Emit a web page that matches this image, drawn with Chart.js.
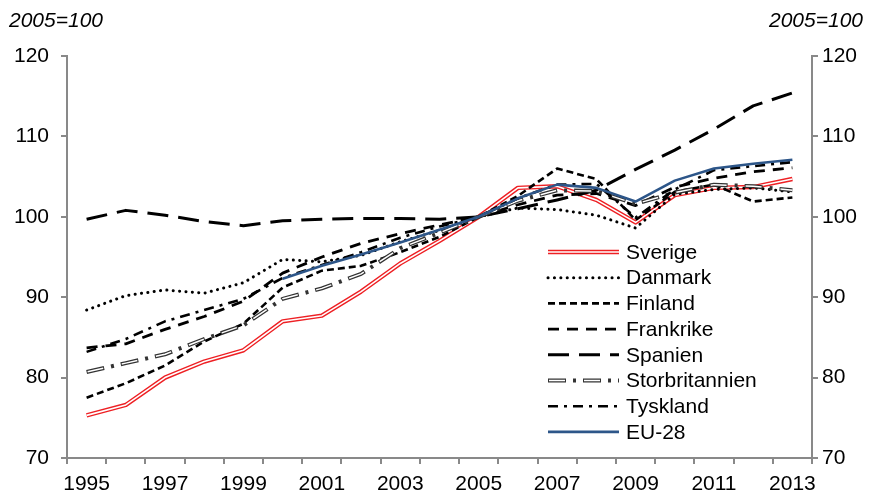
<!DOCTYPE html>
<html>
<head>
<meta charset="utf-8">
<script src="https://cdn.jsdelivr.net/npm/chart.js@4.4.1/dist/chart.umd.min.js"></script>
<style>
  html, body { margin: 0; padding: 0; background: #fff; }
  canvas { display: block; }
</style>
</head>
<body>
<canvas id="productivity-chart" width="870" height="492"></canvas>
<script>
const years = ["1995","1996","1997","1998","1999","2000","2001","2002","2003","2004",
               "2005","2006","2007","2008","2009","2010","2011","2012","2013"];
const yTicks = [70, 80, 90, 100, 110, 120];
const unitLabel = "2005=100";

const sverige        = [75.3, 76.6, 80.0, 82.0, 83.4, 87.0, 87.7, 90.7, 94.2, 97.0, 100, 103.6, 103.8, 102.1, 99.3, 102.7, 103.6, 103.7, 104.7];
const danmark        = [88.4, 90.2, 90.9, 90.5, 91.8, 94.7, 94.4, 95.2, 96.9, 98.3, 100, 101.1, 100.9, 100.2, 98.6, 102.8, 103.4, 103.6, 103.1];
const finland        = [77.5, 79.3, 81.5, 84.5, 86.7, 91.2, 93.3, 93.9, 95.6, 97.5, 100, 102.6, 106.0, 104.7, 99.6, 103.1, 104.0, 101.9, 102.4];
const frankrike      = [83.7, 84.2, 86.0, 87.6, 89.5, 93.0, 95.0, 96.7, 97.9, 99.0, 100, 101.5, 102.7, 102.9, 101.4, 103.7, 104.8, 105.6, 106.1];
const spanien        = [99.7, 100.8, 100.2, 99.4, 98.9, 99.5, 99.7, 99.8, 99.8, 99.7, 100, 101.0, 102.1, 103.3, 105.9, 108.3, 110.9, 113.8, 115.4];
const storbritannien = [80.7, 81.8, 82.9, 84.8, 86.5, 89.8, 91.1, 92.9, 96.1, 98.0, 100, 102.0, 103.3, 103.2, 101.6, 103.0, 104.0, 103.8, 103.3];
const tyskland       = [83.2, 84.8, 87.0, 88.4, 89.8, 92.4, 94.0, 95.6, 97.4, 98.8, 100, 102.3, 104.0, 104.1, 99.9, 103.4, 105.8, 106.3, 106.8];
const eu28           = [null, null, null, null, null, 92.3, 93.9, 95.3, 96.8, 98.4, 100, 102.3, 104.0, 103.6, 101.9, 104.5, 106.0, 106.6, 107.1];

const FONT = '"Liberation Sans", Arial, sans-serif';
const FONT_SIZE = 21;
const AXIS_GREY = "#898989";

// line looks, in legend order; "inner" draws a thin white core for double lines
const seriesStyles = [
    { label: "Sverige", data: sverige, color: "#ee2024", width: 4.4, dash: [], inner: { color: "#ffffff", width: 1.6, dash: [] } },
    { label: "Danmark", data: danmark, color: "#000000", width: 3, dash: [0.1, 6.3], cap: "round" },
    { label: "Finland", data: finland, color: "#000000", width: 2.6, dash: [7, 4] },
    { label: "Frankrike", data: frankrike, color: "#000000", width: 2.8, dash: [11, 8] },
    { label: "Spanien", data: spanien, color: "#000000", width: 3, dash: [21, 10] },
    { label: "Storbritannien", data: storbritannien, color: "#333333", width: 4, dash: [18, 7, 3, 7], inner: { color: "#ffffff", width: 1.5, dash: [16, 19], offset: -1 } },
    { label: "Tyskland", data: tyskland, color: "#000000", width: 2.6, dash: [10, 6, 3, 6] },
    { label: "EU-28", data: eu28, color: "#2d5689", width: 2.6, dash: [] }
];

// later series sit on top, like the original spreadsheet drawing order
const datasets = [];
seriesStyles.forEach((s, idx) => {
    const order = (seriesStyles.length - idx) * 2;
    datasets.push({
        label: s.label,
        data: s.data,
        borderColor: s.color,
        borderWidth: s.width,
        borderDash: s.dash,
        borderCapStyle: s.cap || "butt",
        order: order
    });
    if (s.inner) {
        datasets.push({
            label: s.label + " (inner)",
            data: s.data,
            borderColor: s.inner.color,
            borderWidth: s.inner.width,
            borderDash: s.inner.dash,
            borderDashOffset: s.inner.offset || 0,
            order: order - 1
        });
    }
});

function strokeSample(ctx, x1, x2, y, s) {
    ctx.save();
    ctx.beginPath();
    ctx.moveTo(x1, y);
    ctx.lineTo(x2, y);
    ctx.strokeStyle = s.color;
    ctx.lineWidth = s.width;
    ctx.lineCap = s.cap || "butt";
    ctx.setLineDash(s.dash);
    ctx.stroke();
    if (s.inner) {
        ctx.beginPath();
        ctx.moveTo(x1, y);
        ctx.lineTo(x2, y);
        ctx.strokeStyle = s.inner.color;
        ctx.lineWidth = s.inner.width;
        ctx.setLineDash(s.inner.dash);
        ctx.lineDashOffset = s.inner.offset || 0;
        ctx.stroke();
    }
    ctx.restore();
}

const legendAndTitles = {
    id: "legendAndTitles",
    afterDraw(chart) {
        const ctx = chart.ctx;
        ctx.save();
        ctx.fillStyle = "#000";
        ctx.textBaseline = "middle";
        ctx.font = "italic " + FONT_SIZE + "px " + FONT;
        ctx.textAlign = "left";
        ctx.fillText(unitLabel, 9, 21);
        ctx.textAlign = "right";
        ctx.fillText(unitLabel, 863, 21);

        ctx.font = FONT_SIZE + "px " + FONT;
        ctx.textAlign = "left";
        seriesStyles.forEach((s, i) => {
            const y = 252 + i * 25.7;
            strokeSample(ctx, 548, 619, y, s);
            ctx.fillStyle = "#000";
            ctx.fillText(s.label, 626, y + 1);
        });
        ctx.restore();
    }
};

const yAxisBase = {
    min: 70,
    max: 120,
    grid: { drawOnChartArea: false, drawTicks: true, tickLength: 6, color: AXIS_GREY, lineWidth: 2 },
    border: { display: true, color: AXIS_GREY, width: 2 },
    afterBuildTicks: axis => { axis.ticks = yTicks.map(v => ({ value: v })); }
};

new Chart(document.getElementById("productivity-chart"), {
    type: "line",
    data: { labels: years, datasets: datasets },
    options: {
        responsive: false,
        animation: false,
        devicePixelRatio: 1,
        layout: { padding: { top: 56, left: 0, right: 0, bottom: 0 } },
        elements: {
            point: { radius: 0, hoverRadius: 0 },
            line: { tension: 0, fill: false, borderJoinStyle: "round" }
        },
        plugins: { legend: { display: false }, tooltip: { enabled: false } },
        scales: {
            x: {
                offset: true,
                grid: { drawOnChartArea: false, drawTicks: true, tickLength: 6, color: AXIS_GREY, lineWidth: 2, offset: true },
                border: { display: true, color: AXIS_GREY, width: 2 },
                ticks: {
                    autoSkip: false,
                    maxRotation: 0,
                    minRotation: 0,
                    padding: 8,
                    color: "#000",
                    font: { family: FONT, size: FONT_SIZE },
                    callback: (v, i) => (i % 2 === 0 ? years[i] : "")
                },
                afterFit: axis => { axis.height = 34; }
            },
            y: Object.assign({}, yAxisBase, {
                position: "left",
                ticks: { color: "#000", padding: 12, font: { family: FONT, size: FONT_SIZE } },
                afterFit: axis => { axis.width = 67; }
            }),
            y2: Object.assign({}, yAxisBase, {
                position: "right",
                ticks: { color: "#000", padding: 4, font: { family: FONT, size: FONT_SIZE } },
                afterFit: axis => { axis.width = 58; }
            })
        }
    },
    plugins: [legendAndTitles]
});
</script>
</body>
</html>
